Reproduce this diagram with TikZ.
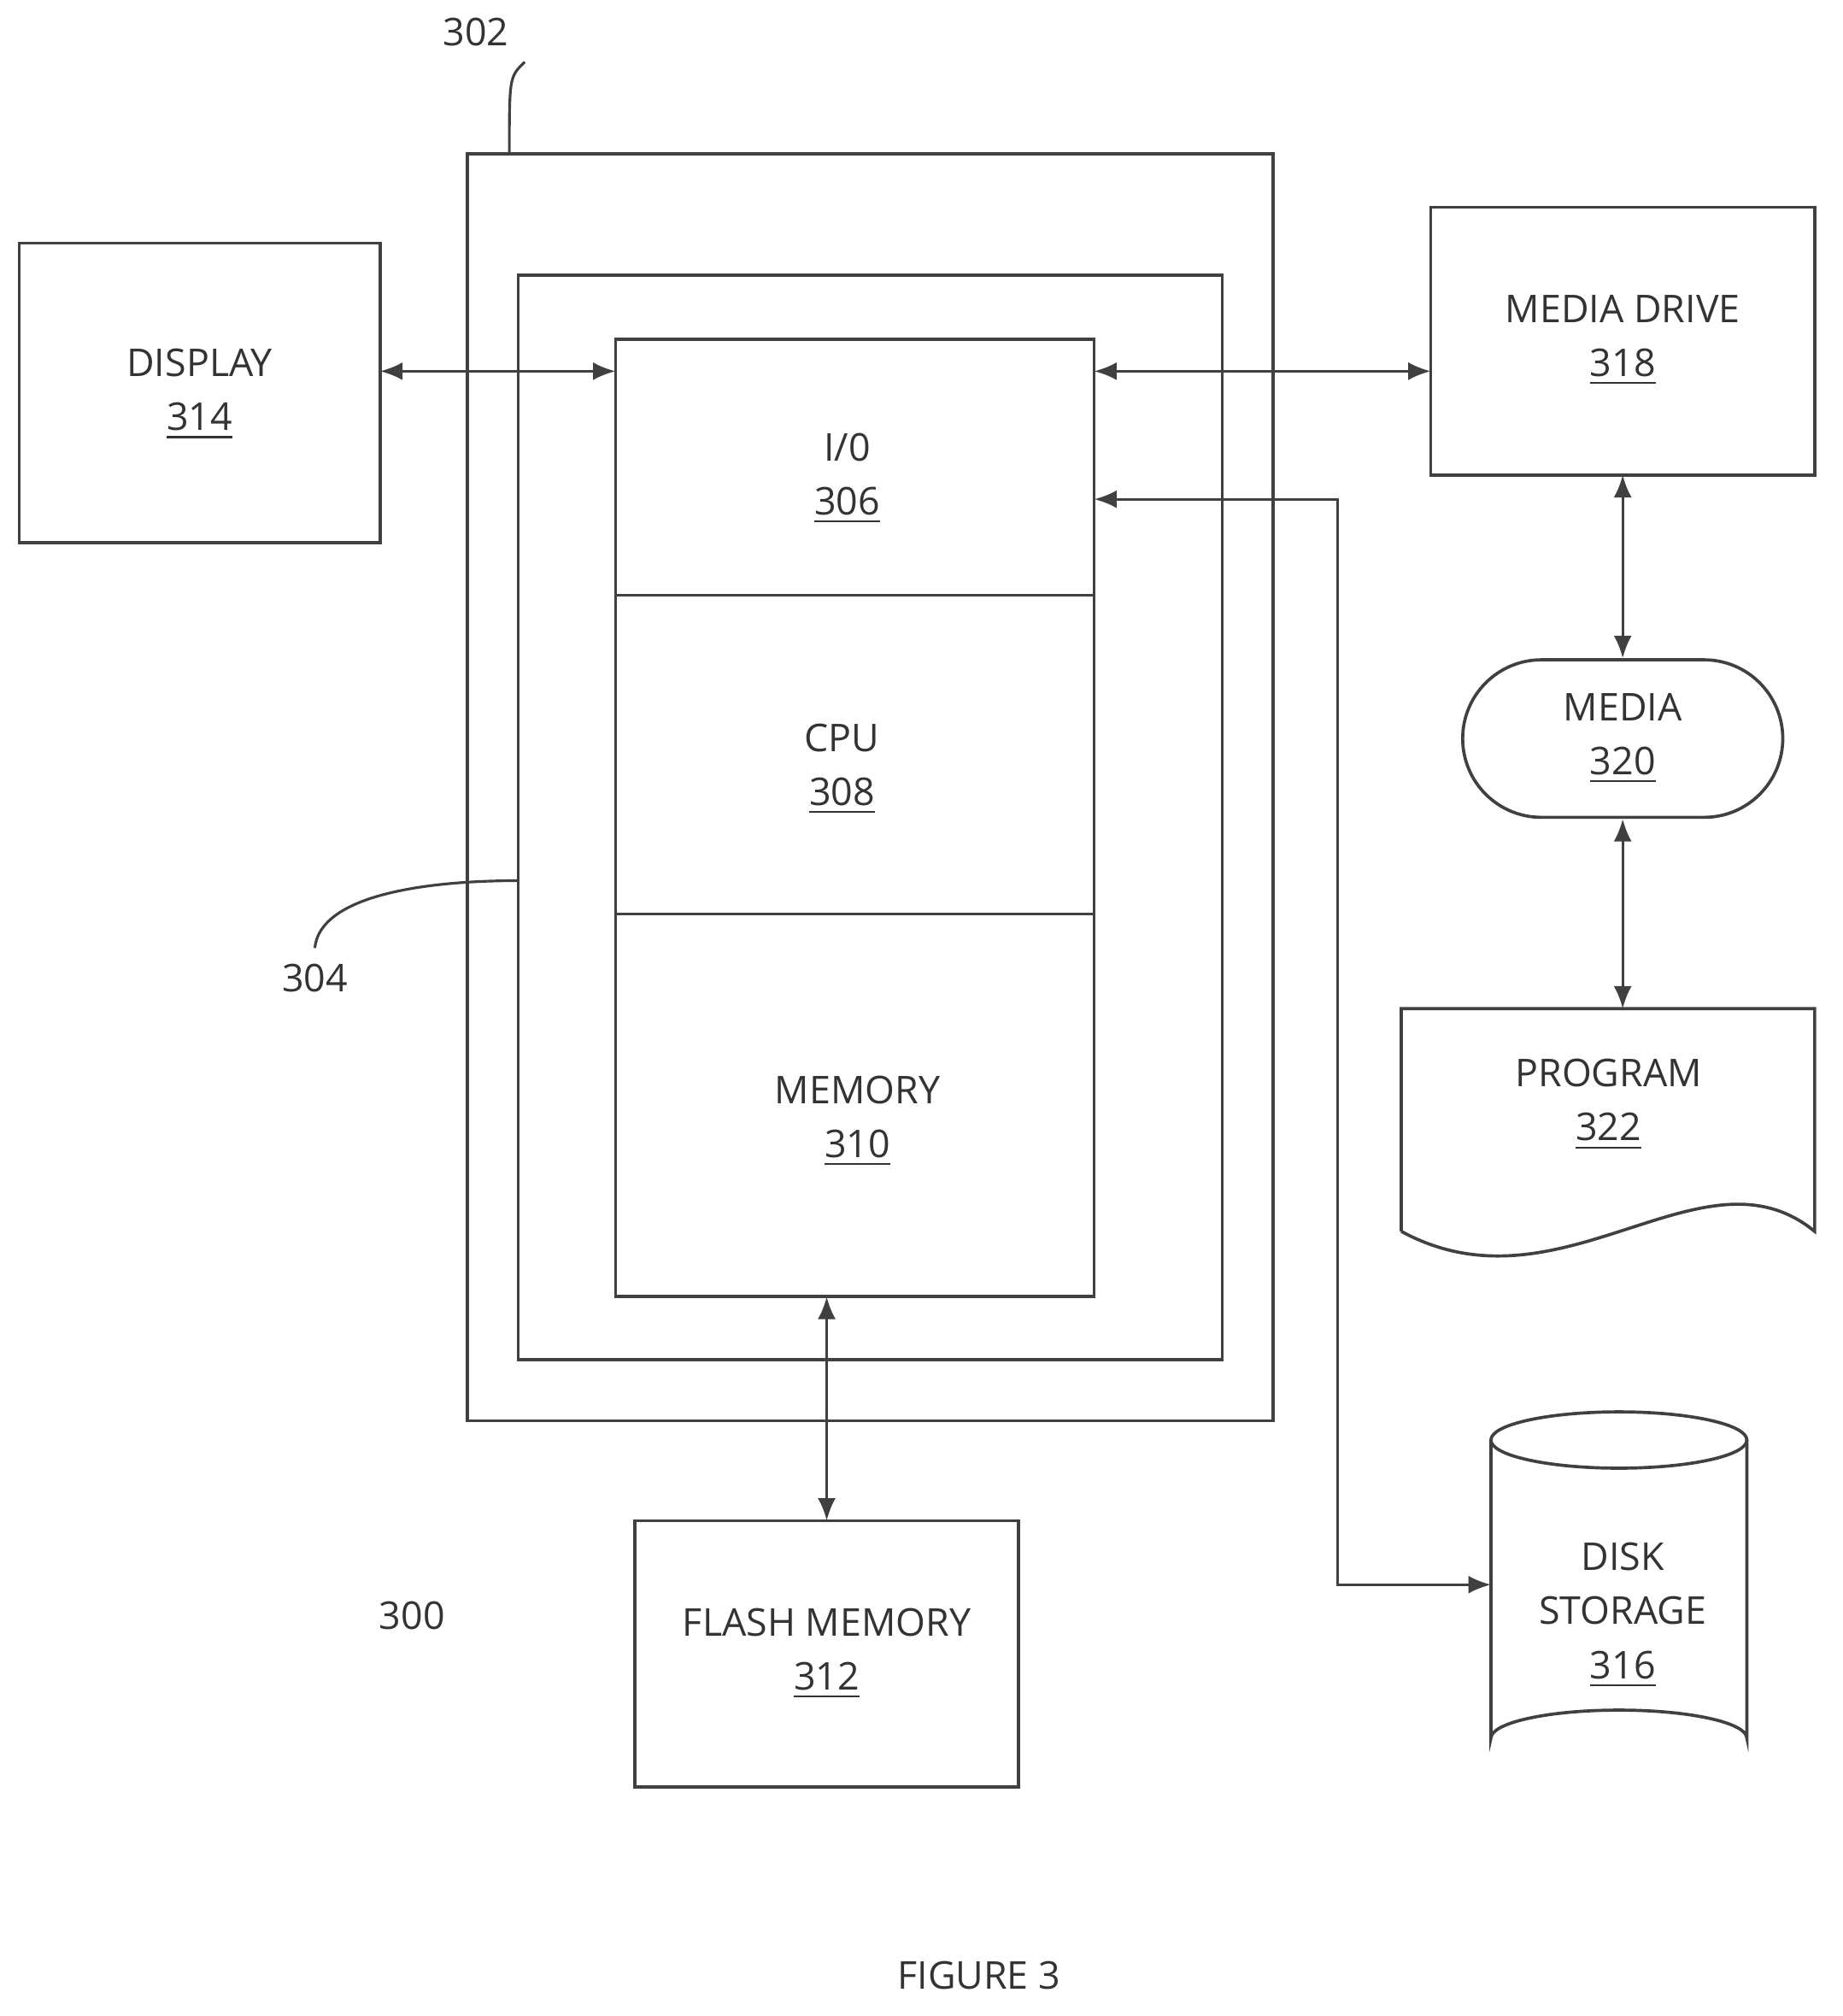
\documentclass[tikz,border=0pt]{standalone}
\usepackage{fontspec}
\setmainfont{Open Sans}
\usetikzlibrary{arrows.meta,positioning,shapes.misc}
\tikzset{
  box/.style={draw=black!75, line width=0.7pt},
  lbl/.style={font=\fontsize{8.5}{12}\selectfont, align=center, text=black!80},
  link/.style={draw=black!75, line width=0.6pt, {Latex[length=5pt,width=4pt]}-{Latex[length=5pt,width=4pt]}},
}
\begin{document}
\begin{tikzpicture}[x=0.01cm,y=-0.01cm]
\useasboundingbox (0,0) rectangle (1440,1575);

% housings
\draw[box] (365,120) rectangle (995,1110);
\draw[box] (405,215) rectangle (955,1062);

% processor stack
\draw[box] (481,265) rectangle (855,1013);
\draw[box] (481,465) -- (855,465);
\draw[box] (481,714) -- (855,714);
\node[lbl] (io) at (662,374) {I/0\\\underline{306}};
\node[lbl] (cpu) at (658,601) {CPU\\\underline{308}};
\node[lbl] (mem) at (670,876) {MEMORY\\\underline{310}};
\coordinate (ioL) at (481,290);
\coordinate (ioR) at (855,290);
\coordinate (ioR2) at (855,390);
\coordinate (memB) at (646,1013);

% peripherals
\draw[box] (15,190) rectangle (297,424);
\node[lbl] (disp) at (156,308) {DISPLAY\\\underline{314}};
\coordinate (dispR) at (297,290);

\draw[box] (1118,162) rectangle (1418,371);
\node[lbl] (drive) at (1268,266) {MEDIA DRIVE\\\underline{318}};
\coordinate (driveL) at (1118,290);
\coordinate (driveB) at (1268,371);

\node[box, rounded rectangle, minimum width=250\pgflinewidth, inner sep=0pt,
      minimum width=7.1cm/2.84, minimum height=1.23cm] (media) at (1268,577) {};
\node[lbl] at (media) {MEDIA\\\underline{320}};

\draw[box] (1095,962) -- (1095,788) -- (1418,788) -- (1418,962)
  .. controls (1330,890) and (1220,1030) .. (1095,962);
\node[lbl] (prog) at (1257,863) {PROGRAM\\\underline{322}};
\coordinate (progT) at (1268,788);

\draw[box] (1165,1125) -- (1165,1358) arc[start angle=180,end angle=360,x radius=100,y radius=22]
  -- (1365,1125);
\draw[box] (1265,1125) ellipse[x radius=100,y radius=22];
\node[lbl] (disk) at (1268,1262) {DISK\\STORAGE\\\underline{316}};
\coordinate (diskL) at (1165,1238);

\draw[box] (496,1188) rectangle (796,1396);
\node[lbl] (flash) at (646,1292) {FLASH MEMORY\\\underline{312}};
\coordinate (flashT) at (646,1188);

% connectors
\draw[link] (dispR) -- (ioL);
\draw[link] (ioR) -- (driveL);
\draw[link] (ioR2) -| (1045,1238) -- (diskL);
\draw[link] (driveB) -- (media.north);
\draw[link] (media.south) -- (progT);
\draw[link] (memB) -- (flashT);

% reference numerals
\node[lbl] (n302) at (372,25) {302};
\draw[black!75, line width=0.6pt] (n302.south east) .. controls (398,60) .. (398,120);
\node[lbl] (n304) at (246,764) {304};
\draw[black!75, line width=0.6pt] (n304.north) .. controls (250,700) and (330,688) .. (405,688);
\node[lbl] (n300) at (322,1262) {300};
\node[lbl] (fig) at (765,1543) {FIGURE 3};
\end{tikzpicture}
\end{document}
